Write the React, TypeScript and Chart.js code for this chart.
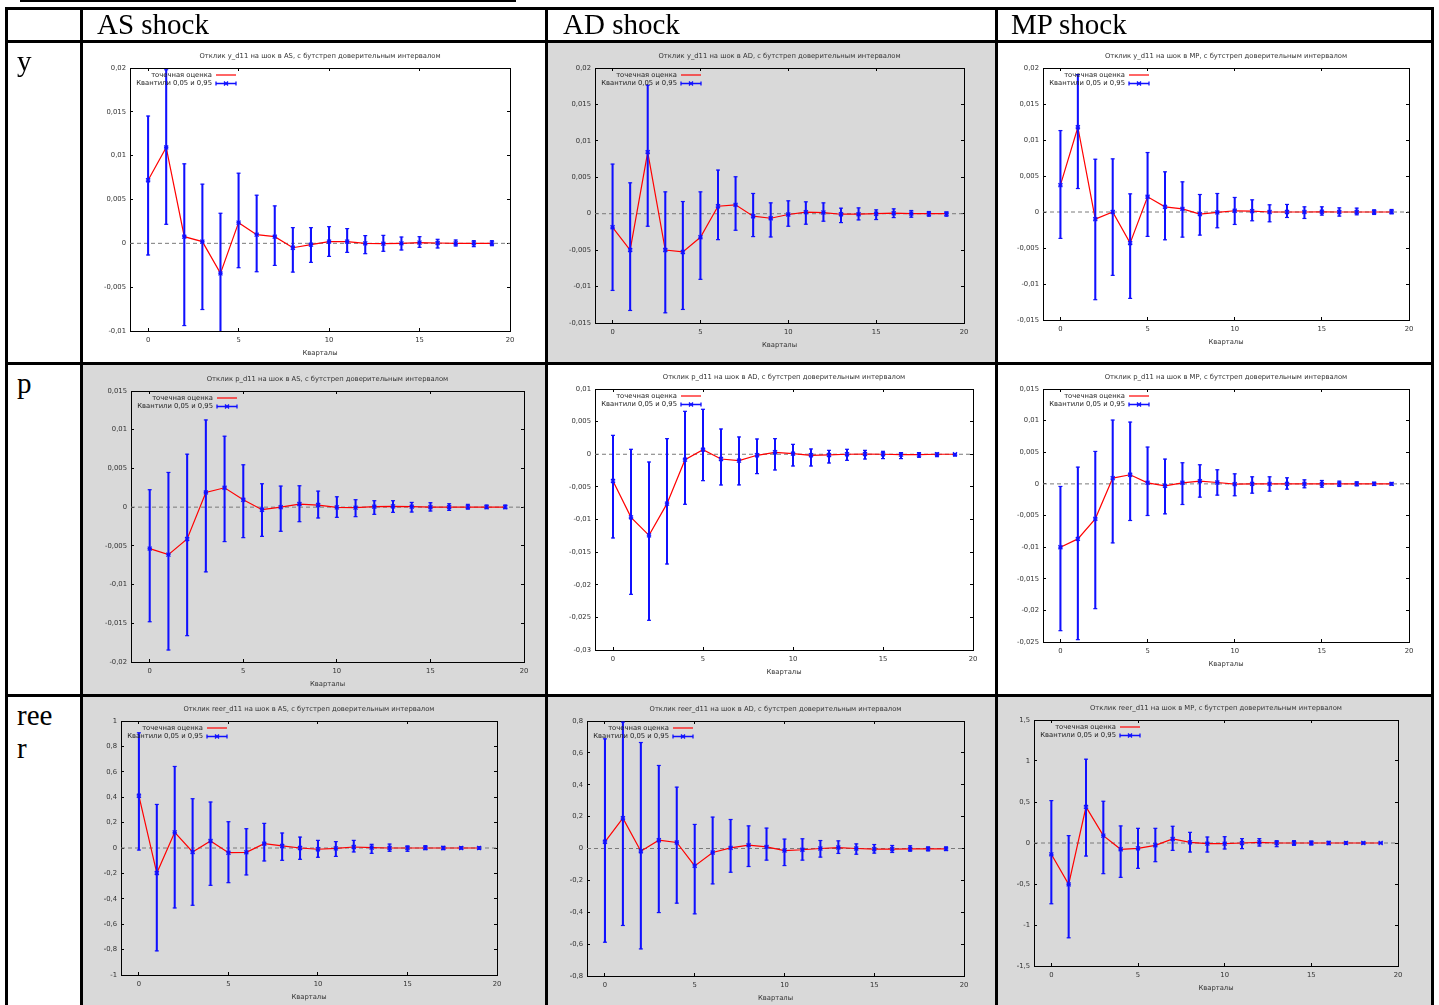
import React, { useEffect, useRef } from "react";
import { Chart, registerables } from "chart.js";
Chart.register(...registerables);

// ---------- data ----------
const quarters = [0, 1, 2, 3, 4, 5, 6, 7, 8, 9, 10, 11, 12, 13, 14, 15, 16, 17, 18, 19];
const xTicks = [0, 5, 10, 15, 20];
const xLabel = "Кварталы";
const legendEstimate = "точечная оценка";
const legendQuantiles = "Квантили 0,05 и 0,95";
const columnHeaders = ["AS shock", "AD shock", "MP shock"];

const yTicksY = [-0.01, -0.005, 0, 0.005, 0.01, 0.015, 0.02];
const yTicksY2 = [-0.015, -0.01, -0.005, 0, 0.005, 0.01, 0.015, 0.02];
const pTicksAS = [-0.02, -0.015, -0.01, -0.005, 0, 0.005, 0.01, 0.015];
const pTicksAD = [-0.03, -0.025, -0.02, -0.015, -0.01, -0.005, 0, 0.005, 0.01];
const pTicksMP = [-0.025, -0.02, -0.015, -0.01, -0.005, 0, 0.005, 0.01, 0.015];
const rTicksAS = [-1, -0.8, -0.6, -0.4, -0.2, 0, 0.2, 0.4, 0.6, 0.8, 1];
const rTicksAD = [-0.8, -0.6, -0.4, -0.2, 0, 0.2, 0.4, 0.6, 0.8];
const rTicksMP = [-1.5, -1, -0.5, 0, 0.5, 1, 1.5];

const yAS_est = [0.0072, 0.01094, 0.00076, 0.0002, -0.00343, 0.00236, 0.00099, 0.00076, -0.0005, -0.00015, 0.0002, 0.0002, 0, -0.00004, 0, 0.00008, 0.00004, 0, 0, 0];
const yAS_lo = [-0.00133, 0.00217, -0.00938, -0.00755, -0.0105, -0.00278, -0.00324, -0.00252, -0.00328, -0.00217, -0.00149, -0.00103, -0.00118, -0.00091, -0.00076, -0.00046, -0.00053, -0.0003, -0.00038, -0.00027];
const yAS_hi = [0.01452, 0.0198, 0.00907, 0.00675, 0.00343, 0.008, 0.00549, 0.00427, 0.00179, 0.00179, 0.0019, 0.00168, 0.00088, 0.00091, 0.00072, 0.00076, 0.00046, 0.00038, 0.0003, 0.0003];

const yAD_est = [-0.00186, -0.00498, 0.00846, -0.00498, -0.00525, -0.00323, 0.00103, 0.00122, -0.00034, -0.00062, -0.00011, 0.00021, 0.00016, -0.00007, -0.00007, 0, 0.00007, 0.00002, 0, 0];
const yAD_lo = [-0.01053, -0.01328, -0.00172, -0.0136, -0.01314, -0.00901, -0.00356, -0.00227, -0.00314, -0.00319, -0.00172, -0.00144, -0.00103, -0.00122, -0.00085, -0.0008, -0.00053, -0.00048, -0.00034, -0.00034];
const yAD_hi = [0.00681, 0.00424, 0.01764, 0.003, 0.00167, 0.003, 0.00599, 0.00507, 0.00278, 0.00149, 0.00177, 0.00163, 0.00149, 0.00076, 0.0008, 0.00053, 0.00067, 0.00044, 0.0003, 0.00025];

const yMP_est = [0.00373, 0.01177, -0.00099, 0, -0.00432, 0.00211, 0.00072, 0.00044, -0.0003, -0.00006, 0.00017, 0.00012, 0, 0, 0, 0.00003, 0, 0, 0, 0];
const yMP_lo = [-0.00367, 0.00326, -0.01218, -0.0088, -0.012, -0.00339, -0.00386, -0.00349, -0.00321, -0.00219, -0.00173, -0.00122, -0.00136, -0.00076, -0.0009, -0.00043, -0.00057, -0.00039, -0.00034, -0.00025];
const yMP_hi = [0.01131, 0.01908, 0.00733, 0.00738, 0.00252, 0.00826, 0.00558, 0.00419, 0.00243, 0.00257, 0.00202, 0.00169, 0.001, 0.00105, 0.00072, 0.00072, 0.00058, 0.00054, 0.0003, 0.00035];

const pAS_est = [-0.00535, -0.00613, -0.00411, 0.0019, 0.0025, 0.00096, -0.00033, 0, 0.0004, 0.00027, -0.00003, -0.00007, 0.00006, 0.0001, 0.00006, 0, 0, 0, 0, 0];
const pAS_lo = [-0.0148, -0.01845, -0.0166, -0.00836, -0.00445, -0.00394, -0.00377, -0.00312, -0.00188, -0.0014, -0.00132, -0.00123, -0.00093, -0.00067, -0.00063, -0.0005, -0.00042, -0.00025, -0.0002, -0.0002];
const pAS_hi = [0.00225, 0.00448, 0.00684, 0.01126, 0.00916, 0.00547, 0.00302, 0.00272, 0.00276, 0.00207, 0.00134, 0.00096, 0.00083, 0.00083, 0.00061, 0.00057, 0.00044, 0.00036, 0.00027, 0.00027];

const pAD_est = [-0.0041, -0.00967, -0.01243, -0.00757, -0.00083, 0.0007, -0.00073, -0.00098, -0.00016, 0.0003, 0.00009, -0.00016, -0.00011, 0, 0.00004, 0, -0.00006, -0.00006, 0, 0];
const pAD_lo = [-0.01283, -0.02147, -0.02545, -0.01682, -0.00767, -0.00405, -0.00471, -0.0047, -0.00297, -0.00241, -0.0018, -0.0018, -0.00134, -0.00093, -0.00073, -0.00067, -0.00067, -0.00047, -0.00037, -0.00027];
const pAD_hi = [0.0029, 0.00076, -0.00119, 0.00239, 0.00658, 0.00689, 0.00387, 0.00265, 0.00234, 0.00239, 0.00152, 0.00081, 0.0006, 0.00076, 0.0006, 0.00045, 0.00025, 0.00025, 0.0002, 0.0001];

const pMP_est = [-0.01002, -0.0087, -0.00553, 0.00091, 0.00144, 0.00017, -0.00031, 0.00017, 0.00043, 0.00022, -0.00004, 0, 0, 0, 0, 0, 0, 0, 0, 0];
const pMP_lo = [-0.02321, -0.02463, -0.01973, -0.00933, -0.00579, -0.005, -0.00474, -0.00326, -0.0021, -0.00178, -0.00188, -0.00147, -0.00115, -0.00083, -0.00062, -0.00052, -0.00041, -0.00031, -0.00025, -0.0002];
const pMP_hi = [-0.00041, 0.00265, 0.00513, 0.01009, 0.00977, 0.00582, 0.00392, 0.00334, 0.00302, 0.00223, 0.00159, 0.00112, 0.00112, 0.00096, 0.00064, 0.00054, 0.00043, 0.00033, 0.00027, 0.00022];

const rAS_est = [0.411, -0.197, 0.123, -0.031, 0.055, -0.037, -0.034, 0.034, 0.016, 0, -0.01, -0.003, 0.008, 0.003, 0, 0, 0, 0, 0, 0];
const rAS_lo = [-0.016, -0.81, -0.472, -0.451, -0.294, -0.273, -0.212, -0.102, -0.097, -0.089, -0.073, -0.066, -0.031, -0.042, -0.026, -0.026, -0.013, -0.013, -0.008, -0.01];
const rAS_hi = [0.907, 0.343, 0.642, 0.388, 0.362, 0.207, 0.152, 0.194, 0.118, 0.086, 0.06, 0.05, 0.06, 0.029, 0.031, 0.016, 0.018, 0.013, 0.01, 0.01];

const rAD_est = [0.042, 0.19, -0.017, 0.052, 0.038, -0.109, -0.025, 0.004, 0.021, 0.01, -0.013, -0.008, 0, 0.006, 0, -0.004, -0.004, -0.002, -0.002, -0.002];
const rAD_lo = [-0.588, -0.483, -0.63, -0.402, -0.343, -0.41, -0.222, -0.149, -0.113, -0.073, -0.107, -0.073, -0.054, -0.031, -0.036, -0.029, -0.025, -0.017, -0.015, -0.013];
const rAD_hi = [0.688, 0.793, 0.665, 0.521, 0.385, 0.151, 0.197, 0.182, 0.142, 0.128, 0.059, 0.061, 0.05, 0.048, 0.029, 0.025, 0.019, 0.017, 0.01, 0.01];

const rMP_est = [-0.138, -0.505, 0.44, 0.09, -0.077, -0.065, -0.028, 0.049, 0.008, -0.008, -0.008, 0, 0.008, 0, 0, 0, 0, 0, 0, 0];
const rMP_lo = [-0.741, -1.156, -0.159, -0.374, -0.419, -0.309, -0.228, -0.09, -0.11, -0.11, -0.073, -0.069, -0.037, -0.045, -0.028, -0.024, -0.02, -0.016, -0.012, -0.008];
const rMP_hi = [0.517, 0.09, 1.022, 0.509, 0.208, 0.179, 0.179, 0.204, 0.13, 0.073, 0.077, 0.053, 0.053, 0.028, 0.028, 0.024, 0.02, 0.016, 0.012, 0.008];

// ---------- styling / layout ----------
const FONT = "DejaVu Sans";
const FS = 6.8;
const TEXT = "#333333";
const BLUE = "#1010ff";
const RED = "#ff0000";
const GRAY = "#d9d9d9";
const YW = 40; // y-axis box width
const XH = 26; // x-axis box height
const PADL = 45, PADT = 20, PADR = 5, PADB = 48;

type Spec = {
  title: string;
  est: number[];
  lo: number[];
  hi: number[];
  yTicks: number[];
  plot: [number, number, number, number]; // left, top, right, bottom (page px)
};

const specs: Spec[] = [
  { title: "Отклик y_d11 на шок в AS, с бутстреп доверительным интервалом", est: yAS_est, lo: yAS_lo, hi: yAS_hi, yTicks: yTicksY, plot: [130, 68, 510, 331] },
  { title: "Отклик y_d11 на шок в AD, с бутстреп доверительным интервалом", est: yAD_est, lo: yAD_lo, hi: yAD_hi, yTicks: yTicksY2, plot: [595, 68, 964, 323] },
  { title: "Отклик y_d11 на шок в MP, с бутстреп доверительным интервалом", est: yMP_est, lo: yMP_lo, hi: yMP_hi, yTicks: yTicksY2, plot: [1043, 68, 1409, 320] },
  { title: "Отклик p_d11 на шок в AS, с бутстреп доверительным интервалом", est: pAS_est, lo: pAS_lo, hi: pAS_hi, yTicks: pTicksAS, plot: [131, 391, 524, 662] },
  { title: "Отклик p_d11 на шок в AD, с бутстреп доверительным интервалом", est: pAD_est, lo: pAD_lo, hi: pAD_hi, yTicks: pTicksAD, plot: [595, 389, 973, 650] },
  { title: "Отклик p_d11 на шок в MP, с бутстреп доверительным интервалом", est: pMP_est, lo: pMP_lo, hi: pMP_hi, yTicks: pTicksMP, plot: [1043, 389, 1409, 642] },
  { title: "Отклик reer_d11 на шок в AS, с бутстреп доверительным интервалом", est: rAS_est, lo: rAS_lo, hi: rAS_hi, yTicks: rTicksAS, plot: [121, 721, 497, 975] },
  { title: "Отклик reer_d11 на шок в AD, с бутстреп доверительным интервалом", est: rAD_est, lo: rAD_lo, hi: rAD_hi, yTicks: rTicksAD, plot: [587, 721, 964, 976] },
  { title: "Отклик reer_d11 на шок в MP, с бутстреп доверительным интервалом", est: rMP_est, lo: rMP_lo, hi: rMP_hi, yTicks: rTicksMP, plot: [1034, 720, 1398, 966] },
];

const fmt = (v: number | string) => {
  const n = Number(v);
  if (n === 0) return "0";
  return String(n).replace(".", ",");
};

const gpText = {
  id: "gpText",
  afterDatasetsDraw(chart: any, _args: any, opts: any) {
    const { ctx, chartArea: a } = chart;
    ctx.save();
    ctx.font = `${FS}px "${FONT}"`;
    ctx.fillStyle = TEXT;
    ctx.textBaseline = "middle";
    ctx.textAlign = "center";
    ctx.fillText(opts.title, (a.left + a.right) / 2, a.top - 12);
    // legend
    const tx = a.left + 82;
    const r1 = a.top + 7;
    const r2 = a.top + 15.5;
    const s1 = a.left + 86;
    const s2 = a.left + 106;
    ctx.fillStyle = "#222";
    ctx.textAlign = "right";
    ctx.fillText(legendEstimate, tx, r1);
    ctx.fillText(legendQuantiles, tx, r2);
    ctx.lineWidth = 1.2;
    ctx.strokeStyle = RED;
    ctx.beginPath();
    ctx.moveTo(s1, r1);
    ctx.lineTo(s2, r1);
    ctx.stroke();
    ctx.strokeStyle = BLUE;
    ctx.lineWidth = 1.3;
    ctx.beginPath();
    ctx.moveTo(s1, r2);
    ctx.lineTo(s2, r2);
    ctx.moveTo(s1, r2 - 2);
    ctx.lineTo(s1, r2 + 2);
    ctx.moveTo(s2, r2 - 2);
    ctx.lineTo(s2, r2 + 2);
    const cx = (s1 + s2) / 2;
    ctx.moveTo(cx - 2, r2 - 2);
    ctx.lineTo(cx + 2, r2 + 2);
    ctx.moveTo(cx - 2, r2 + 2);
    ctx.lineTo(cx + 2, r2 - 2);
    ctx.stroke();
    ctx.restore();
  },
};

function ChartBox({ spec }: { spec: Spec }) {
  const ref = useRef<HTMLCanvasElement | null>(null);
  const [L, T, R, B] = spec.plot;
  const left = L - PADL;
  const top = T - PADT;
  const width = R - L + PADL + PADR;
  const height = B - T + PADT + PADB;

  useEffect(() => {
    if (!ref.current) return;
    const font = { family: FONT, size: FS };
    const grid = {
      drawOnChartArea: false,
      drawTicks: true,
      tickLength: -3,
      tickColor: "#000",
      tickWidth: 1,
      offset: false,
    };
    const border = { display: true, color: "#000", width: 1 };
    const yMin = spec.yTicks[0];
    const yMax = spec.yTicks[spec.yTicks.length - 1];
    const setX = (s: any) => { s.ticks = xTicks.map((v) => ({ value: v })); };
    const setY = (s: any) => { s.ticks = spec.yTicks.map((v) => ({ value: v })); };
    const zeroPad = (s: any) => { s.paddingLeft = 0; s.paddingRight = 0; s.paddingTop = 0; s.paddingBottom = 0; };

    const chart = new Chart(ref.current, {
      type: "line",
      data: {
        datasets: [
          {
            type: "line",
            data: quarters.map((q, i) => ({ x: q, y: spec.est[i] })),
            showLine: false,
            pointStyle: "crossRot",
            pointRadius: 2.8,
            pointBorderColor: BLUE,
            pointBorderWidth: 1.3,
            order: 0,
          } as any,
          {
            type: "line",
            data: quarters.map((q, i) => ({ x: q, y: spec.est[i] })),
            showLine: false,
            pointStyle: "line",
            pointRadius: 2.2,
            pointBorderColor: BLUE,
            pointBorderWidth: 1,
            order: 0,
          } as any,
          {
            type: "line",
            data: [
              ...quarters.map((q, i) => ({ x: q, y: spec.lo[i] })),
              ...quarters.map((q, i) => ({ x: q, y: spec.hi[i] })),
            ],
            showLine: false,
            pointStyle: "line",
            pointRadius: 2,
            pointBorderColor: BLUE,
            pointBorderWidth: 1.2,
            order: 1,
          } as any,
          {
            type: "bar",
            data: quarters.map((q, i) => ({ x: q, y: [spec.lo[i], spec.hi[i]] })),
            backgroundColor: BLUE,
            borderWidth: 0,
            barThickness: 1.4,
            grouped: false,
            order: 2,
          } as any,
          {
            type: "line",
            data: quarters.map((q, i) => ({ x: q, y: spec.est[i] })),
            borderColor: RED,
            borderWidth: 1.2,
            pointRadius: 0,
            tension: 0,
            order: 3,
          } as any,
          {
            type: "line",
            data: [{ x: -1, y: 0 }, { x: 20, y: 0 }],
            borderColor: "#7a7a7a",
            borderWidth: 1,
            borderDash: [4, 3],
            pointRadius: 0,
            order: 4,
          } as any,
        ],
      },
      options: {
        animation: false,
        responsive: false,
        devicePixelRatio: 1,
        events: [],
        layout: { padding: { left: PADL - YW, top: PADT, right: PADR, bottom: PADB - XH }, autoPadding: false } as any,
        plugins: {
          legend: { display: false },
          tooltip: { enabled: false },
          title: { display: false },
          gpText: { title: spec.title },
        } as any,
        scales: {
          x: {
            type: "linear",
            position: "bottom",
            min: -1,
            max: 20,
            offset: false,
            afterBuildTicks: setX,
            afterFit: (s: any) => { s.height = XH; zeroPad(s); },
            ticks: { font, color: TEXT, padding: 8, maxRotation: 0, autoSkip: false, callback: fmt },
            grid,
            border,
            title: { display: true, text: xLabel, font, color: TEXT, padding: 0 },
          },
          x2: {
            type: "linear",
            position: "top",
            min: -1,
            max: 20,
            offset: false,
            afterBuildTicks: setX,
            afterFit: (s: any) => { s.height = 0; zeroPad(s); },
            ticks: { display: false },
            grid,
            border,
          },
          y: {
            type: "linear",
            position: "left",
            min: yMin,
            max: yMax,
            afterBuildTicks: setY,
            afterFit: (s: any) => { s.width = YW; zeroPad(s); },
            ticks: { font, color: TEXT, padding: 7, autoSkip: false, callback: fmt },
            grid,
            border,
          },
          y2: {
            type: "linear",
            position: "right",
            min: yMin,
            max: yMax,
            afterBuildTicks: setY,
            afterFit: (s: any) => { s.width = 0; zeroPad(s); },
            ticks: { display: false },
            grid,
            border,
          },
        } as any,
      },
      plugins: [gpText as any],
    });
    return () => chart.destroy();
  }, [spec]);

  return (
    <canvas
      ref={ref}
      width={width}
      height={height}
      style={{ position: "absolute", left, top, width, height }}
    />
  );
}

const abs = (l: number, t: number, w: number, h: number, bg: string): React.CSSProperties => ({
  position: "absolute", left: l, top: t, width: w, height: h, background: bg,
});

export default function App() {
  useEffect(() => {
    document.body.style.overflow = "hidden";
  }, []);
  const vLines = [5, 80, 545, 995, 1431];
  const hLines = [7, 40, 362, 694];
  const headerX = [97, 563, 1011];
  const rowLabels: { lines: string[]; top: number }[] = [
    { lines: ["y"], top: 45 },
    { lines: ["p"], top: 367 },
    { lines: ["ree", "r"], top: 699 },
  ];
  const textStyle: React.CSSProperties = {
    position: "absolute",
    fontFamily: '"Liberation Serif", "Times New Roman", serif',
    fontSize: 29,
    lineHeight: "33px",
    color: "#000",
    whiteSpace: "nowrap",
  };
  return (
    <div style={{ position: "absolute", left: 0, top: 0, width: 1439, height: 1005, overflow: "hidden", background: "#fff" }}>
      <div style={abs(20, 0, 496, 2, "#000")} />
      {/* gray cells */}
      <div style={abs(548, 43, 447, 319, GRAY)} />
      <div style={abs(83, 365, 462, 329, GRAY)} />
      <div style={abs(83, 697, 462, 308, GRAY)} />
      <div style={abs(548, 697, 447, 308, GRAY)} />
      <div style={abs(998, 697, 433, 308, GRAY)} />
      {specs.map((s, i) => (
        <ChartBox key={i} spec={s} />
      ))}
      {vLines.map((x, i) => (
        <div key={"v" + i} style={abs(x, 7, 3, 1000, "#000")} />
      ))}
      {hLines.map((y, i) => (
        <div key={"h" + i} style={abs(5, y, 1429, 3, "#000")} />
      ))}
      {columnHeaders.map((h, i) => (
        <div key={"c" + i} style={{ ...textStyle, left: headerX[i], top: 8 }}>{h}</div>
      ))}
      {rowLabels.map((r, i) => (
        <div key={"r" + i} style={{ ...textStyle, left: 17, top: r.top }}>
          {r.lines.map((ln, j) => (
            <div key={j}>{ln}</div>
          ))}
        </div>
      ))}
    </div>
  );
}
